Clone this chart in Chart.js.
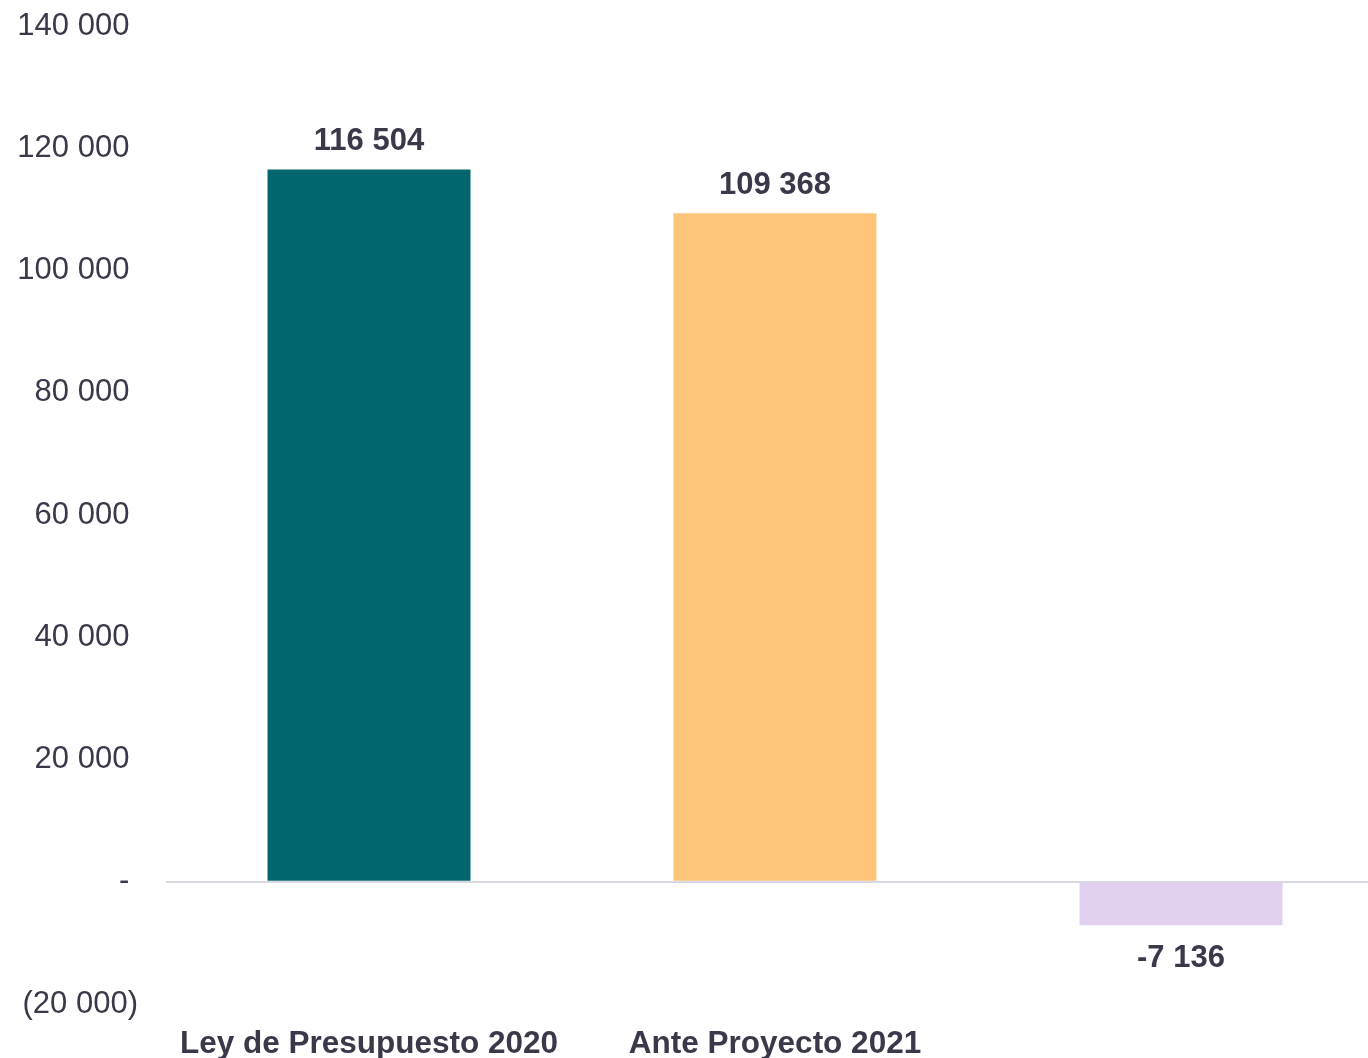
<!DOCTYPE html>
<html>
<head>
<meta charset="utf-8">
<script src="https://cdn.jsdelivr.net/npm/chart.js@4/dist/chart.umd.min.js"></script>
<style>
  html, body { margin: 0; padding: 0; background: #ffffff; overflow: hidden; width: 1368px; height: 1058px; }
  #wrap { position: absolute; left: 0; top: 0; width: 1384px; height: 1080px; }
  canvas { display: block; }
</style>
</head>
<body>
<div id="wrap"><canvas id="c" width="1384" height="1080"></canvas></div>
<script>
// Budget comparison: 2020 law vs 2021 draft, plus the difference
const categories = ['Ley de Presupuesto 2020', 'Ante Proyecto 2021', ''];
const amounts = [116504, 109368, -7136];
const barColors = ['#02666F', '#FEC57A', '#E2D0F0'];
const yTicks = [-20000, 0, 20000, 40000, 60000, 80000, 100000, 120000, 140000];

const TEXT = '#3A3949';
const FONT = "'Liberation Sans', Arial, sans-serif";

function group(n) {
  return String(Math.round(Math.abs(n))).replace(/\B(?=(\d{3})+(?!\d))/g, ' ');
}
function axisLabel(v) {
  if (v === 0) return '- ';
  if (v < 0) return '(' + group(v) + ')';
  return group(v) + ' ';
}
function valueLabel(v) {
  return (v < 0 ? '-' : '') + group(v);
}

const valueLabels = {
  id: 'valueLabels',
  afterDatasetsDraw(chart) {
    const ctx = chart.ctx;
    const meta = chart.getDatasetMeta(0);
    ctx.save();
    ctx.font = 'bold 31px ' + FONT;
    ctx.fillStyle = TEXT;
    ctx.textAlign = 'center';
    ctx.textBaseline = 'middle';
    meta.data.forEach((bar, i) => {
      const v = amounts[i];
      const y = v >= 0 ? bar.y - 28 : bar.y + 33;
      ctx.fillText(valueLabel(v), bar.x, y);
    });
    ctx.restore();
  }
};

new Chart(document.getElementById('c'), {
  type: 'bar',
  data: {
    labels: categories,
    datasets: [{
      data: amounts,
      backgroundColor: barColors,
      borderWidth: 0,
      categoryPercentage: 1.0,
      barPercentage: 0.5
    }]
  },
  options: {
    responsive: false,
    animation: false,
    layout: { padding: 0 },
    plugins: { legend: { display: false }, tooltip: { enabled: false } },
    scales: {
      x: {
        grid: { display: false, drawTicks: false },
        border: { display: false },
        ticks: {
          color: TEXT,
          font: { family: FONT, size: 31.5, weight: 'bold' },
          padding: 21,
          maxRotation: 0,
          autoSkip: false
        },
        afterFit(scale) { scale.height = 1080 - 1004; }
      },
      y: {
        min: -20000,
        max: 140000,
        afterBuildTicks(scale) { scale.ticks = yTicks.map(v => ({ value: v })); },
        grid: {
          drawTicks: false,
          color: ctx => (ctx.tick && ctx.tick.value === 0 ? '#D9D9E1' : 'rgba(0,0,0,0)'),
          lineWidth: ctx => (ctx.tick && ctx.tick.value === 0 ? 2 : 0)
        },
        border: { display: false },
        ticks: {
          color: TEXT,
          font: { family: FONT, size: 31 },
          padding: 28,
          callback: v => axisLabel(v)
        },
        afterFit(scale) {
          scale.width = 166;
          scale.paddingTop = 26;
          scale.paddingBottom = 0;
        }
      }
    }
  },
  plugins: [valueLabels]
});
</script>
</body>
</html>
